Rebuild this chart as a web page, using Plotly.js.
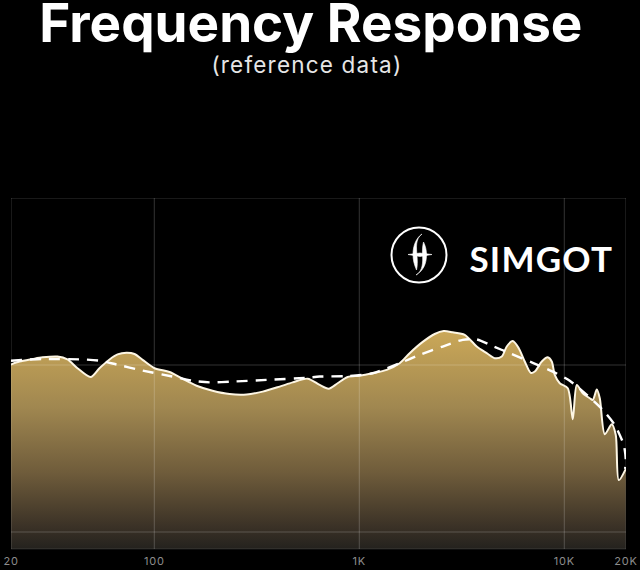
<!DOCTYPE html>
<html>
<head>
<meta charset="utf-8">
<script src="https://cdn.plot.ly/plotly-3.0.1.min.js"></script>
<style>
html,body{margin:0;padding:0;background:#000;overflow:hidden}
#chart{width:640px;height:570px}
.xtick text{letter-spacing:.8px}
.annotation-text-g text{letter-spacing:1.2px}
</style>
</head>
<body>
<div id="chart"></div>
<script>
var measuredFreq = [20,22,25.5,28.5,33.7,37.7,42.2,48.9,54,60.5,66.2,73.2,80.1,87.7,100.3,118.7,135.9,160.8,192.4,233,282,338,409,473,560,641,709,784,878,1004,1162,1360,1574,1761,2039,2333,2581,2856,3268,3740,4184,4578,4954,5240,5605,5996,6414,6861,7177,7766,8305,8686,8985,9504,10400,11000,11510,12310,13320,13770,14410,14900,15760,17050,17830,18440,19950];
var measuredDb = [44.2,44.9,45.5,45.9,46.1,45.4,43.3,41.2,43.3,45.4,46.6,47.0,46.7,45.3,43.3,42.4,40.9,39.1,37.9,37.1,37.0,37.7,38.9,39.9,40.8,39.3,38.4,39.7,41.2,41.5,42.1,42.9,44.5,46.9,49.6,51.5,52.2,51.9,51.3,48.5,46.9,45.7,46.1,48.5,49.8,48.1,44.9,42.2,42.5,44.9,45.9,44.9,41.7,39.7,38.5,31.1,39.3,37.3,36.1,35.7,38.2,36.1,27.5,29.9,27.3,16.5,19.2];
var targetFreq = [20,28.5,44.7,54,65.4,84.7,122.8,153.7,186,241,353,554,641,868,1162,1574,1971,2552,3195,3740,4476,5420,7017,8785,10630,12880,15410,17630,19510,19950,19800];
var targetDb = [45.1,45.5,45.4,45.1,44.2,42.9,41.3,40.3,39.9,40.1,40.5,41.0,41.3,41.4,42.1,44.5,46.5,48.5,50.1,50.2,48.6,46.9,44.6,42.5,40.3,36.9,33.3,29.7,24.9,21.3,19.2];
var tickFreqs = [20,100,1000,10000,20000];
var tickLabels = ['20','100','1K','10K','20K'];
var gridDb = [4.07,44.07,84.07];

var W=640,H=570,L=11,R=626,T=198,B=549;
function px(x){return (x-L)/(R-L);}
function py(y){return (B-y)/(B-T);}
function P(cmd){
  return cmd.map(function(c){return c[0]+c.slice(1).map(function(v,i){return i%2===0?px(v):py(v);}).join(',');}).join(' ');
}
var gridColor='rgba(255,255,255,0.2)';
var shapes=[];
tickFreqs.forEach(function(f){
  shapes.push({type:'line',layer:'above',xref:'x',yref:'paper',x0:f,x1:f,y0:0,y1:1,line:{color:gridColor,width:1}});
});
gridDb.forEach(function(d){
  shapes.push({type:'line',layer:'above',xref:'paper',yref:'y',x0:0,x1:1,y0:d,y1:d,line:{color:gridColor,width:1}});
});
shapes.push({type:'line',layer:'above',xref:'paper',yref:'paper',x0:0,x1:1,y0:0,y1:0,line:{color:'rgba(255,255,255,0.12)',width:1}});
// logo
shapes.push({type:'circle',xref:'paper',yref:'paper',x0:px(391.5),x1:px(446.5),y0:py(282.5),y1:py(227.5),line:{color:'#fff',width:2}});
shapes.push({type:'path',xref:'paper',yref:'paper',line:{color:'#fff',width:0.6},fillcolor:'#fff',
  path:P([['M',422,234],['C',415,239,416.5,248,417,256],['C',417.5,261,417.5,266,416.5,270],['C',414,264,413,260,413,254],['C',413,246,416,238,422,234]])+' Z'});
shapes.push({type:'path',xref:'paper',yref:'paper',line:{color:'#fff',width:0.6},fillcolor:'#fff',
  path:P([['M',416,275],['C',423,271,423,262,422.5,254],['C',422.3,250,422.5,246,423.5,242],['C',425.5,246,426.5,250,426.5,255],['C',426.5,264,423,271,416,275]])+' Z'});
shapes.push({type:'path',xref:'paper',yref:'paper',line:{color:'#fff',width:0.6},fillcolor:'#fff',
  path:P([['M',408,254.5],['L',420,253],['L',432,254.5],['L',420,256.5]])+' Z'});

var traces=[
 {x:measuredFreq,y:measuredDb,mode:'lines',type:'scatter',name:'Measured',
  line:{color:'#fdf6e4',width:2,shape:'spline',smoothing:0.8},
  fill:'tozeroy',
  fillgradient:{type:'vertical',start:0,stop:52.2,
    colorscale:[[0,'#24221e'],[0.1,'#3a3126'],[0.35,'#6f5c3b'],[0.65,'#a08750'],[1,'#cba858']]},
  hoverinfo:'skip'},
 {x:targetFreq,y:targetDb,mode:'lines',type:'scatter',name:'Target',
  line:{color:'#ffffff',width:2.4,dash:'11px,8px',shape:'spline',smoothing:0.7},
  hoverinfo:'skip'}
];
var layout={
  width:W,height:H,showlegend:false,
  paper_bgcolor:'#000',plot_bgcolor:'#000',
  margin:{l:L,r:W-R,t:T,b:H-B,pad:0},
  title:{text:'Frequency Response',font:{family:'Inter',size:53,weight:700,color:'#fff'},
    x:312/W,xanchor:'center',xref:'paper',y:1-23/H,yanchor:'middle'},
  xaxis:{type:'log',range:[Math.log10(20),Math.log10(20000)],tickmode:'array',tickvals:tickFreqs,ticktext:tickLabels,
    showgrid:false,zeroline:false,showline:false,ticks:'',ticklabelstandoff:4,
    tickfont:{family:'Inter',size:11,color:'#8c8c8c'},tickangle:0,automargin:false},
  yaxis:{range:[0,84.07],showgrid:false,zeroline:false,showline:false,showticklabels:false,ticks:'',automargin:false},
  shapes:shapes,
  annotations:[
    {xref:'paper',yref:'paper',x:px(307),y:py(65),text:'(reference data)',showarrow:false,xanchor:'center',yanchor:'middle',
     font:{family:'Inter',size:22.5,color:'#e6e6e6'}},
    {xref:'paper',yref:'paper',x:px(541),y:py(257.5),text:'SIMGOT',showarrow:false,xanchor:'center',yanchor:'middle',
     font:{family:'Lato',size:35,weight:700,color:'#fff'}}
  ]
};
Plotly.newPlot('chart',traces,layout,{displayModeBar:false,staticPlot:true});
</script>
</body>
</html>
